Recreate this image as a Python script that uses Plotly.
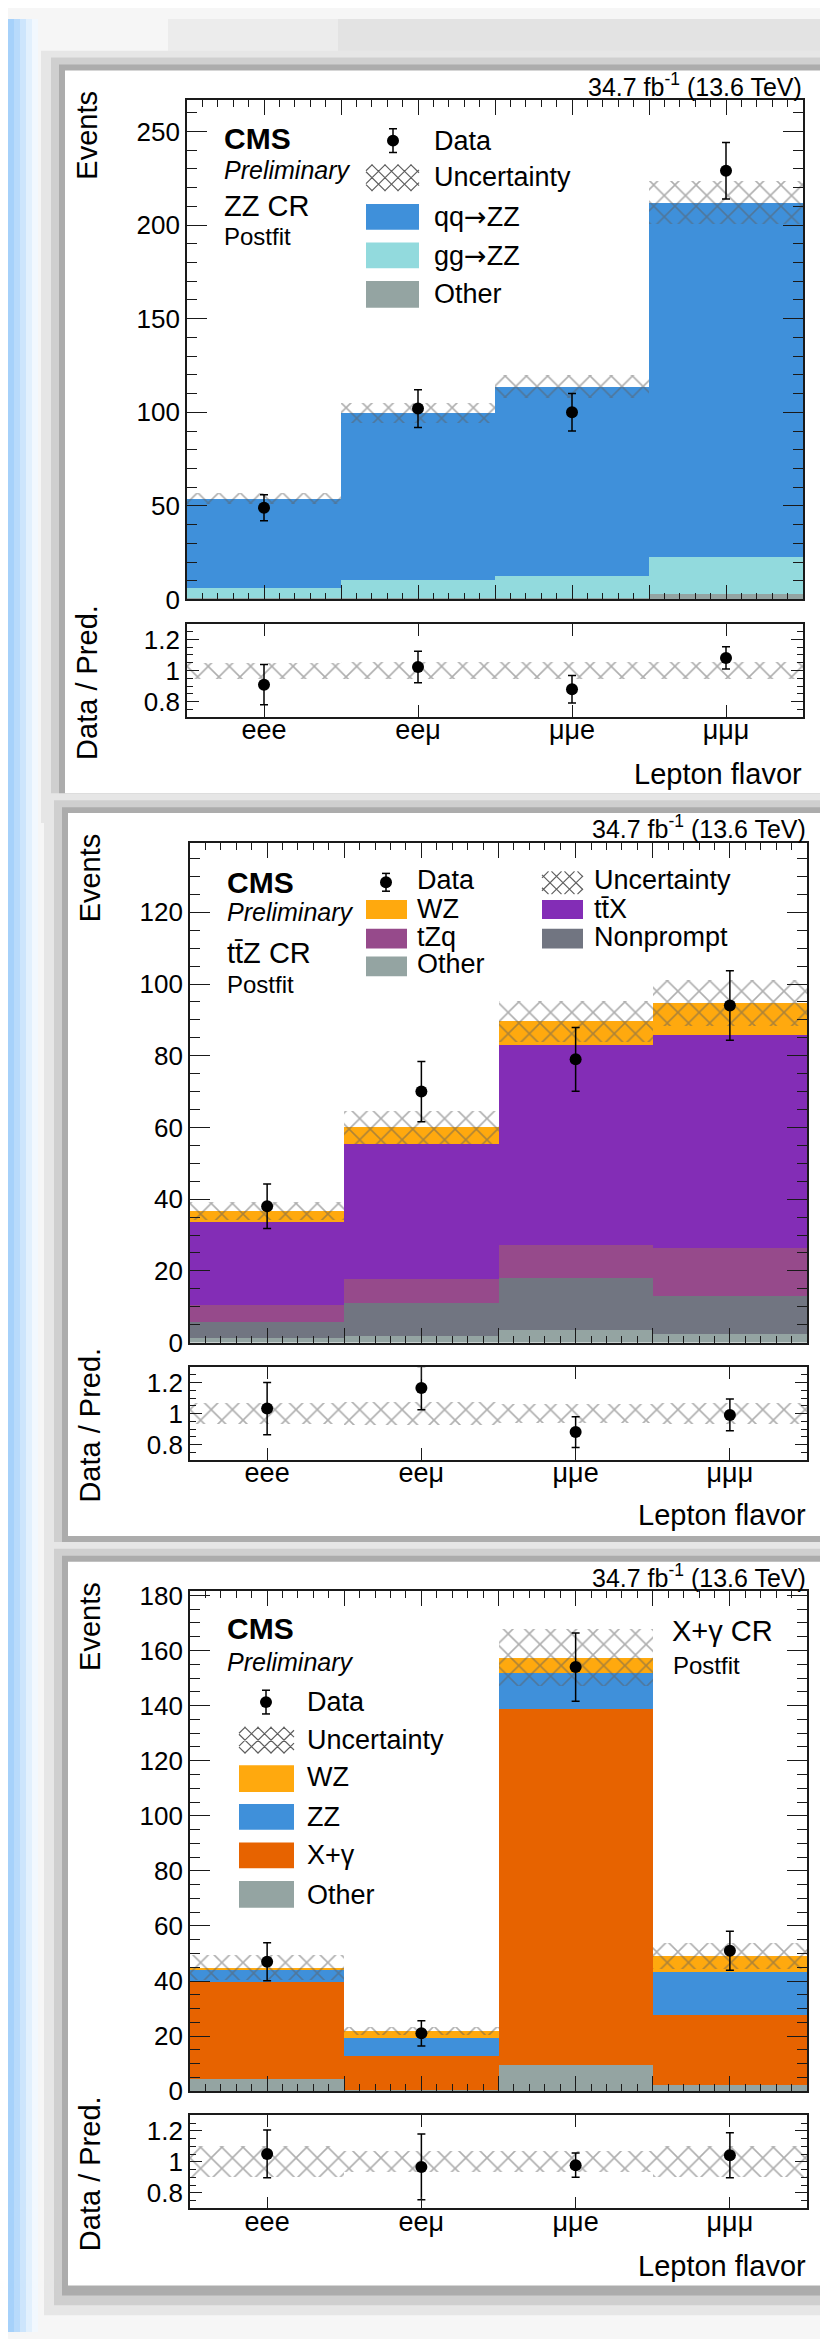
import plotly.graph_objects as go

W, H = 828, 2339

# ---------------- data ----------------
categories = ["eee", "eeμ", "μμe", "μμμ"]
bin_centers = [0.5, 1.5, 2.5, 3.5]

# ZZ CR
zz_other = [0.5, 1.0, 1.0, 2.8]
zz_gg = [5.8, 9.4, 11.3, 19.7]
zz_qq = [47.6, 89.3, 101.4, 189.3]
zz_unc = [2.8, 5.4, 6.0, 11.5]
zz_data = [49, 102, 100, 229]
zz_data_err = [7.0, 10.1, 10.0, 15.1]

# ttZ CR
ttz_other = [1.4, 1.9, 3.7, 2.5]
ttz_nonprompt = [4.3, 9.2, 14.5, 10.6]
ttz_tzq = [5.0, 6.6, 9.0, 13.4]
ttz_ttx = [22.9, 37.8, 55.9, 59.3]
ttz_wz = [3.2, 4.6, 6.6, 9.0]
ttz_unc = [2.6, 4.6, 5.7, 6.4]
ttz_data = [38, 70, 79, 94]
ttz_data_err = [6.2, 8.4, 8.9, 9.7]

# X+gamma CR
xg_other = [4.4, 0.5, 9.4, 2.2]
xg_xgamma = [35.3, 12.2, 129.3, 25.2]
xg_zz = [4.2, 6.4, 13.1, 15.6]
xg_wz = [0.8, 2.6, 5.5, 5.9]
xg_unc = [4.6, 1.5, 10.4, 4.8]
xg_data = [47, 21, 154, 51]
xg_data_err = [6.9, 4.6, 12.4, 7.1]

# colours
C_BLUE = "#3f90da"
C_CYAN = "#92dadd"
C_GRAY = "#94a4a2"
C_ORANGE = "#ffa90e"
C_PURPLE = "#832db6"
C_TZQ = "#964a8b"
C_NONPROMPT = "#717581"
C_XG = "#e76300"
HATCH = "#5e5e5e"

FONT = "Liberation Sans, Arial, Helvetica, sans-serif"
ARROW = "<span style='font-family:DejaVu Sans'>→</span>"


def X(px):
    return px / W


def Y(py):
    return 1 - py / H


panels = [
    dict(
        comps=[("Other", zz_other, C_GRAY), ("gg→ZZ", zz_gg, C_CYAN), ("qq→ZZ", zz_qq, C_BLUE)],
        unc=zz_unc, data=zz_data, err=zz_data_err,
        x0=179, x1=795, mtop=82, mbot=587, ymax=266.8, dtick=50, minor=10,
        rtop=611.7, rbot=706,
    ),
    dict(
        comps=[("Other", ttz_other, C_GRAY), ("Nonprompt", ttz_nonprompt, C_NONPROMPT),
               ("tZq", ttz_tzq, C_TZQ), ("ttX", ttz_ttx, C_PURPLE), ("WZ", ttz_wz, C_ORANGE)],
        unc=ttz_unc, data=ttz_data, err=ttz_data_err,
        x0=182, x1=799, mtop=833, mbot=1338.5, ymax=139.4, dtick=20, minor=5,
        rtop=1363.3, rbot=1457.3,
    ),
    dict(
        comps=[("Other", xg_other, C_GRAY), ("X+γ", xg_xgamma, C_XG), ("ZZ", xg_zz, C_BLUE),
               ("WZ", xg_wz, C_ORANGE)],
        unc=xg_unc, data=xg_data, err=xg_data_err,
        x0=182, x1=799, mtop=1590, mbot=2095.5, ymax=181.5, dtick=20, minor=5,
        rtop=2120, rbot=2214,
    ),
]

fig = go.Figure()

axis_common = dict(
    showline=True, linecolor="#1a1a1a", linewidth=1.6, mirror="ticks",
    ticks="inside", tickcolor="#1a1a1a", tickwidth=1.4, showgrid=False,
    zeroline=False, layer="above traces", tickfont=dict(size=26, family=FONT, color="black"),
    fixedrange=True,
)

layout_axes = {}
hatch_pattern = dict(shape="x", fgcolor=HATCH, bgcolor="rgba(0,0,0,0)", size=15,
                     solidity=0.2, fillmode="overlay")

for i, p in enumerate(panels):
    m = 2 * i + 1
    r = 2 * i + 2
    xm, ym = f"x{m}", f"y{m}"
    xr, yr = f"x{r}", f"y{r}"
    total = [sum(c[1][k] for c in p["comps"]) for k in range(4)]

    for name, vals, col in p["comps"]:
        fig.add_trace(go.Bar(x=bin_centers, y=vals, width=1, name=name,
                             marker=dict(color=col, line=dict(width=0)),
                             xaxis=xm, yaxis=ym, showlegend=False))
    # uncertainty band (overlay via base)
    fig.add_trace(go.Bar(x=bin_centers, y=[2 * u for u in p["unc"]],
                         base=[t - u for t, u in zip(total, p["unc"])], width=1,
                         marker=dict(color="rgba(0,0,0,0)", line=dict(width=0),
                                     pattern=hatch_pattern),
                         xaxis=xm, yaxis=ym, showlegend=False))
    fig.add_trace(go.Scatter(x=bin_centers, y=p["data"], mode="markers",
                             marker=dict(color="black", size=12),
                             error_y=dict(type="data", array=p["err"], color="black",
                                          thickness=1.5, width=4),
                             xaxis=xm, yaxis=ym, showlegend=False))
    # ratio panel
    rel = [u / t for u, t in zip(p["unc"], total)]
    fig.add_trace(go.Bar(x=bin_centers, y=[2 * q for q in rel], base=[1 - q for q in rel],
                         width=1,
                         marker=dict(color="rgba(0,0,0,0)", line=dict(width=0),
                                     pattern=hatch_pattern),
                         xaxis=xr, yaxis=yr, showlegend=False))
    fig.add_trace(go.Scatter(x=bin_centers, y=[d / t for d, t in zip(p["data"], total)],
                             mode="markers", marker=dict(color="black", size=12),
                             error_y=dict(type="data",
                                          array=[e / t for e, t in zip(p["err"], total)],
                                          color="black", thickness=1.5, width=4),
                             xaxis=xr, yaxis=yr, showlegend=False))

    xdomain = [X(p["x0"]), X(p["x1"])]
    layout_axes[f"xaxis{m}"] = dict(
        axis_common, domain=xdomain, anchor=ym, range=[0, 4],
        tickmode="array", tickvals=[k * 0.5 for k in range(9)], showticklabels=False,
        ticklen=15,
        minor=dict(ticks="inside", ticklen=7, tickmode="linear", tick0=0, dtick=0.1,
                   tickcolor="#1a1a1a", tickwidth=1.1),
    )
    layout_axes[f"yaxis{m}"] = dict(
        axis_common, domain=[Y(p["mbot"]), Y(p["mtop"])], anchor=xm,
        range=[0, p["ymax"]], tickmode="linear", tick0=0, dtick=p["dtick"], ticklen=20,
        minor=dict(ticks="inside", ticklen=10, tickmode="linear", tick0=0,
                   dtick=p["minor"], tickcolor="#1a1a1a", tickwidth=1.1),
    )
    layout_axes[f"xaxis{r}"] = dict(
        axis_common, domain=xdomain, anchor=yr, range=[0, 4],
        tickmode="array", tickvals=bin_centers, ticktext=categories, ticklen=12,
        ticklabelstandoff=-12,
        tickfont=dict(size=27, family=FONT, color="black"),
    )
    layout_axes[f"yaxis{r}"] = dict(
        axis_common, domain=[Y(p["rbot"]), Y(p["rtop"])], anchor=xr,
        range=[0.7, 1.3], tickmode="array", tickvals=[0.8, 1.0, 1.2],
        ticktext=["0.8", "1", "1.2"], ticklen=12,
        minor=dict(ticks="inside", ticklen=6, tickmode="linear", tick0=0.7,
                   dtick=0.05, tickcolor="#1a1a1a", tickwidth=1.1),
    )

# ---------------- background shapes ----------------
shapes = []


def rect(x0, y0, x1, y1, color, layer="below"):
    shapes.append(dict(type="rect", xref="paper", yref="paper",
                       x0=X(x0), x1=X(x1), y0=Y(y1), y1=Y(y0),
                       fillcolor=color, line=dict(width=0), layer=layer))


# top light-gray band
rect(160, 0, 828, 40, "#ececec")
rect(330, 0, 828, 40, "#e3e3e3")
# card shadows and cards
cards = [(57, 52, 817, 783), (60, 803, 821, 1534), (60, 1560, 821, 2292)]
for (a, b, c, d) in cards:
    rect(a - 24, b - 20, c + 12, d + 30, "#e6e6e6")
    rect(a - 14, b - 13, c + 10, d + 20, "#cfcfcf")
    rect(a - 6, b - 6, c + 6, d + 10, "#acacac")
    rect(a, b, c, d, "white")
# left blue strip
for (a, c, col) in [(0, 6, "#a6d1fa"), (6, 12, "#b8dafb"), (12, 18, "#cde5fc"),
                    (18, 24, "#e2f0fd"), (24, 30, "#f2f8fe")]:
    rect(a, 0, c, H, col)


def hatch_path(x0, y0, x1, y1, step=13):
    w, h = x1 - x0, y1 - y0
    parts = []
    c = -h + step / 2
    while c < w:
        us = max(c, 0)
        vs = us - c
        ve = min(h, w - c)
        ue = ve + c
        if vs < h and ve > vs:
            parts.append(f"M{X(x0 + us)},{Y(y0 + vs)} L{X(x0 + ue)},{Y(y0 + ve)}")
        c += step
    c = step / 2
    while c < w + h:
        us = max(0, c - h)
        vs = c - us
        ue = min(w, c)
        ve = c - ue
        parts.append(f"M{X(x0 + us)},{Y(y0 + vs)} L{X(x0 + ue)},{Y(y0 + ve)}")
        c += step
    return " ".join(parts)


def swatch(x0, y0, x1, y1, color):
    shapes.append(dict(type="rect", xref="paper", yref="paper", x0=X(x0), x1=X(x1),
                       y0=Y(y1), y1=Y(y0), fillcolor=color,
                       line=dict(width=0), layer="above"))


def hatch_swatch(x0, y0, x1, y1):
    shapes.append(dict(type="path", xref="paper", yref="paper",
                       path=hatch_path(x0, y0, x1, y1),
                       line=dict(color=HATCH, width=1.2), layer="above"))


def data_marker(cx, cy, half):
    shapes.append(dict(type="line", xref="paper", yref="paper", x0=X(cx), x1=X(cx),
                       y0=Y(cy - half), y1=Y(cy + half), line=dict(color="black", width=1.5),
                       layer="above"))
    for yy in (cy - half, cy + half):
        shapes.append(dict(type="line", xref="paper", yref="paper", x0=X(cx - 4),
                           x1=X(cx + 4), y0=Y(yy), y1=Y(yy),
                           line=dict(color="black", width=1.5), layer="above"))
    shapes.append(dict(type="circle", xref="paper", yref="paper", x0=X(cx - 6),
                       x1=X(cx + 6), y0=Y(cy + 6), y1=Y(cy - 6), fillcolor="black",
                       line=dict(width=0), layer="above"))


annotations = []


def text(x, y, s, size, xanchor="left", yanchor="middle", angle=0):
    annotations.append(dict(xref="paper", yref="paper", x=X(x), y=Y(y), text=s,
                            showarrow=False, xanchor=xanchor, yanchor=yanchor,
                            textangle=angle, borderpad=0,
                            font=dict(size=size, family=FONT, color="black")))


# ---------------- panel texts ----------------
lumi = "34.7 fb<sup>-1</sup> (13.6 TeV)"

# panel 1
text(795, 67, lumi, 25, xanchor="right")
text(215, 121, "<b>CMS</b>", 30)
text(215, 153, "<i>Preliminary</i>", 25)
text(215, 189, "ZZ CR", 29)
text(215, 220, "Postfit", 24)
text(79, 72, "Events", 29, xanchor="center", yanchor="top", angle=-90)
text(79, 592, "Data / Pred.", 29, xanchor="center", yanchor="top", angle=-90)
text(795, 763, "Lepton flavor", 29, xanchor="right")
data_marker(385, 123, 12)
text(425, 123, "Data", 27)
hatch_swatch(358, 147, 411, 174)
text(425, 160, "Uncertainty", 27)
swatch(358, 187, 411, 213, C_BLUE)
text(425, 200, "qq" + ARROW + "ZZ", 27)
swatch(358, 226, 411, 252, C_CYAN)
text(425, 239, "gg" + ARROW + "ZZ", 27)
swatch(358, 265, 411, 292, C_GRAY)
text(425, 278, "Other", 27)

# panel 2
text(799, 817, lumi, 25, xanchor="right")
text(218, 873, "<b>CMS</b>", 30)
text(218, 903, "<i>Preliminary</i>", 25)
text(218, 945, "tt̄Z CR", 29)
text(218, 976, "Postfit", 24)
text(82, 823, "Events", 29, xanchor="center", yanchor="top", angle=-90)
text(82, 1343, "Data / Pred.", 29, xanchor="center", yanchor="top", angle=-90)
text(799, 1513, "Lepton flavor", 29, xanchor="right")
data_marker(378, 873, 9)
text(408, 871, "Data", 27)
swatch(358, 891, 399, 910, C_ORANGE)
text(408, 900, "WZ", 27)
swatch(358, 920, 399, 940, C_TZQ)
text(408, 928, "tZq", 27)
swatch(358, 948, 399, 968, C_GRAY)
text(408, 956, "Other", 27)
hatch_swatch(534, 862, 575, 885)
text(585, 871, "Uncertainty", 27)
swatch(534, 891, 575, 910, C_PURPLE)
text(585, 900, "tt̄X", 27)
swatch(534, 920, 575, 940, C_NONPROMPT)
text(585, 928, "Nonprompt", 27)

# panel 3
text(799, 1575, lumi, 25, xanchor="right")
text(218, 1628, "<b>CMS</b>", 30)
text(218, 1661, "<i>Preliminary</i>", 25)
text(663, 1630, "X+γ CR", 29)
text(664, 1665, "Postfit", 24)
text(82, 1580, "Events", 29, xanchor="center", yanchor="top", angle=-90)
text(82, 2100, "Data / Pred.", 29, xanchor="center", yanchor="top", angle=-90)
text(799, 2272, "Lepton flavor", 29, xanchor="right")
data_marker(258, 1702, 12)
text(298, 1702, "Data", 27)
hatch_swatch(231, 1727, 286, 1754)
text(298, 1740, "Uncertainty", 27)
swatch(231, 1766, 286, 1793, C_ORANGE)
text(298, 1778, "WZ", 27)
swatch(231, 1805, 286, 1831, C_BLUE)
text(298, 1818, "ZZ", 27)
swatch(231, 1844, 286, 1870, C_XG)
text(298, 1857, "X+γ", 27)
swatch(231, 1883, 286, 1910, C_GRAY)
text(298, 1897, "Other", 27)

fig.update_layout(
    width=W, height=H, margin=dict(l=0, r=0, t=0, b=0, pad=0),
    paper_bgcolor="#f6f6f6", plot_bgcolor="rgba(0,0,0,0)",
    barmode="stack", bargap=0, showlegend=False,
    font=dict(family=FONT, color="black"),
    shapes=shapes, annotations=annotations,
    **layout_axes,
)

fig.write_html("out.html")
